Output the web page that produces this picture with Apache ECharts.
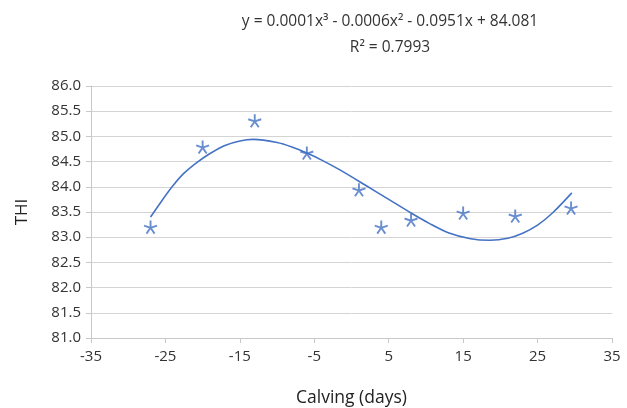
<!DOCTYPE html>
<html>
<head>
<meta charset="utf-8">
<script src="https://cdn.jsdelivr.net/npm/echarts@6/dist/echarts.min.js"></script>
<style>
  html, body { margin: 0; padding: 0; background: #fff; }
  #chart { width: 627px; height: 408px; }
</style>
</head>
<body>
<div id="chart"></div>
<script>
var days = [-27, -20, -13, -6, 1, 4, 8, 15, 22, 29.5];
var thi  = [83.20, 84.79, 85.31, 84.67, 83.94, 83.20, 83.34, 83.48, 83.42, 83.58];

// polynomial trend line
var trendDays = [-27, -25.5, -24, -22.5, -20.7, -19, -17, -15, -13.2, -10, -8, -6, -4, -1.5, 2, 5, 8, 10.5, 13, 16, 18.6, 21, 23, 25, 27, 29.6];
var trendThi  = [83.40, 83.72, 84.02, 84.27, 84.49, 84.66, 84.82, 84.91, 84.94, 84.88, 84.79, 84.67, 84.53, 84.33, 84.02, 83.75, 83.48, 83.27, 83.09, 82.97, 82.94, 82.98, 83.08, 83.24, 83.48, 83.88];

var equationText = 'y = 0.0001x³ - 0.0006x² - 0.0951x + 84.081';
var r2Text = 'R² = 0.7993';

var blue = '#4472c4';
var font = '"Open Sans", Lato, sans-serif';

// five armed asterisk marker
var star = 'path://M0,0L0,-10M0,0L9.5,-3.1M0,0L5.9,8.1M0,0L-5.9,8.1M0,0L-9.5,-3.1';

var myChart = echarts.init(document.getElementById('chart'));

var option = {
  animation: false,
  title: {
    text: equationText + '\n' + r2Text,
    left: 385,
    textAlign: 'center',
    top: 4,
    textStyle: {
      fontFamily: font,
      fontSize: 15.5,
      fontWeight: 'normal',
      color: '#333',
      lineHeight: 26
    }
  },
  grid: { left: 91, right: 15, top: 86, bottom: 70, outerBoundsMode: 'none' },
  xAxis: {
    type: 'value',
    min: -35, max: 35, interval: 10,
    name: 'Calving (days)',
    nameLocation: 'middle',
    nameGap: 51,
    nameTextStyle: { fontFamily: font, fontSize: 17.5, color: '#222' },
    axisLine: { lineStyle: { color: '#c8c8c8' } },
    axisTick: { show: true, length: 5, lineStyle: { color: '#c8c8c8' } },
    axisLabel: { fontFamily: font, fontSize: 15, color: '#333', margin: 11 },
    splitLine: { show: false }
  },
  yAxis: {
    type: 'value',
    min: 81, max: 86, interval: 0.5,
    name: 'THI',
    nameLocation: 'middle',
    nameGap: 60,
    nameRotate: 90,
    nameTextStyle: { fontFamily: font, fontSize: 17, color: '#222' },
    axisLine: { show: true, onZero: false, lineStyle: { color: '#c8c8c8' } },
    axisTick: { show: true, length: 5, lineStyle: { color: '#c8c8c8' } },
    axisLabel: {
      fontFamily: font, fontSize: 15, color: '#333', margin: 10,
      formatter: function (v) { return v.toFixed(1) }
    },
    splitLine: { lineStyle: { color: '#d4d4d4', width: 1 } }
  },
  series: [
    {
      type: 'line',
      data: trendDays.map(function (d, i) { return [d, trendThi[i]] }),
      smooth: 0.3,
      showSymbol: false,
      lineStyle: { color: blue, width: 1.6 },
      z: 2
    },
    {
      type: 'scatter',
      data: days.map(function (d, i) { return [d, thi[i]] }),
      symbol: star,
      symbolSize: 13,
      itemStyle: { color: 'rgba(0,0,0,0)', borderColor: blue, borderWidth: 1.9 },
      z: 3
    }
  ]
};

myChart.setOption(option);
</script>
</body>
</html>
